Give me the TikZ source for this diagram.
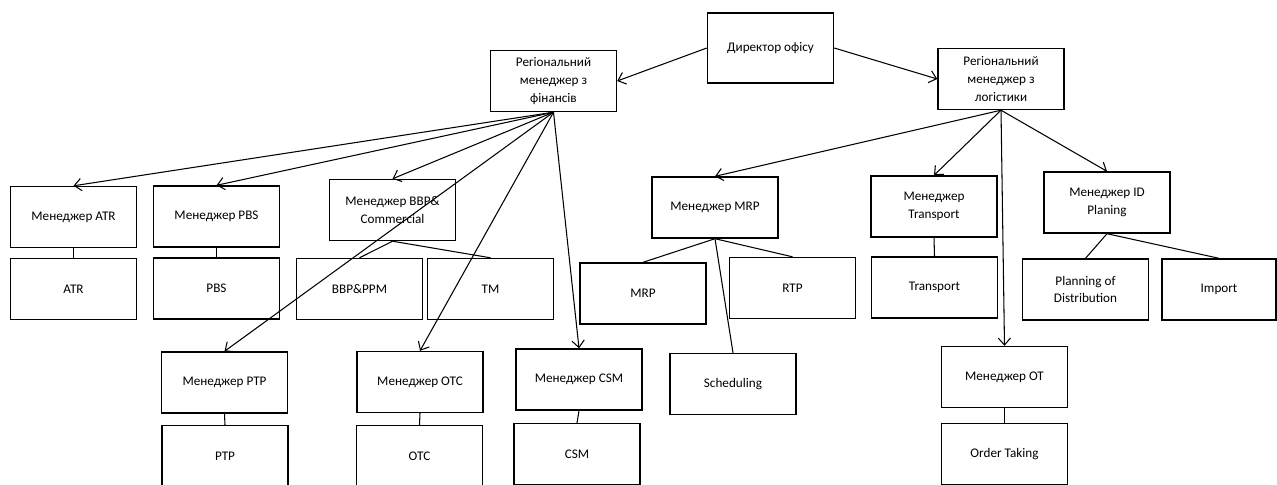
\documentclass[tikz,border=0pt]{standalone}
\usepackage{fontspec}
\setmainfont{Carlito}
\usetikzlibrary{arrows.meta}
\begin{document}
\begin{tikzpicture}[x=0.02cm, y=-0.02cm, >={Straight Barb[length=4pt, width=7pt]},
  every node/.style={font=\fontsize{7.5}{10}\selectfont},
  box/.style={draw, line width=0.8pt, minimum width=2.52cm, minimum height=1.22cm,
    align=center, inner sep=1pt},
  link/.style={semithick}]
  \clip (0, 0) rectangle (1277, 484);
  \node[box, minimum height=1.4cm] (dir) at (770.5, 48) {Директор офісу};
  \node[box] (fin) at (553.5, 81) {Регіональний\\менеджер з\\фінансів};
  \node[box] (log) at (1001, 79) {Регіональний\\менеджер з\\логістики};
  \node[box] (mATR) at (73.5, 217) {Менеджер ATR};
  \node[box] (ATR) at (73.5, 289) {ATR};
  \node[box] (mPBS) at (216.5, 216.5) {Менеджер PBS};
  \node[box] (PBS) at (216.5, 288.5) {PBS};
  \node[box] (mBBP) at (392.5, 210) {Менеджер BBP\&\\Commercial};
  \node[box] (BBP) at (359.5, 289) {BBP\&PPM};
  \node[box] (TM) at (490.5, 289) {TM};
  \node[box] (mPTP) at (224.5, 382.5) {Менеджер PTP};
  \node[box] (PTP) at (225, 456) {PTP};
  \node[box] (mOTC) at (420, 382) {Менеджер OTC};
  \node[box] (OTC) at (419.5, 456) {OTC};
  \node[box] (mCSM) at (579, 379.5) {Менеджер CSM};
  \node[box] (CSM) at (577, 454) {CSM};
  \node[box] (mMRP) at (715, 207.5) {Менеджер MRP};
  \node[box] (MRP) at (643, 293.5) {MRP};
  \node[box] (RTP) at (792.5, 288) {RTP};
  \node[box] (sched) at (733, 384) {Scheduling};
  \node[box] (mTr) at (934, 206.5) {Менеджер\\Transport};
  \node[box] (Tr) at (934.5, 287.5) {Transport};
  \node[box] (mID) at (1107, 202.5) {Менеджер ID\\Planing};
  \node[box] (PoD) at (1085.5, 289.5) {Planning of\\Distribution};
  \node[box, minimum width=2.28cm] (imp) at (1219, 289.5) {Import};
  \node[box] (mOT) at (1004.5, 377) {Менеджер OT};
  \node[box] (OT) at (1004.5, 454) {Order Taking};
  \draw[link, ->] (dir.west) -- (fin.east);
  \draw[link, ->] (dir.east) -- (log.west);
  \foreach \m in {mATR, mPBS, mBBP, mPTP, mOTC, mCSM}
    \draw[link, ->] (fin.south) -- (\m.north);
  \foreach \m in {mMRP, mTr, mID, mOT}
    \draw[link, ->] (log.south) -- (\m.north);
  \foreach \m/\s in {mATR/ATR, mPBS/PBS, mBBP/BBP, mBBP/TM, mPTP/PTP, mOTC/OTC,
      mCSM/CSM, mMRP/MRP, mMRP/RTP, mMRP/sched, mTr/Tr, mID/PoD, mID/imp, mOT/OT}
    \draw[link] (\m.south) -- (\s.north);
\end{tikzpicture}
\end{document}
